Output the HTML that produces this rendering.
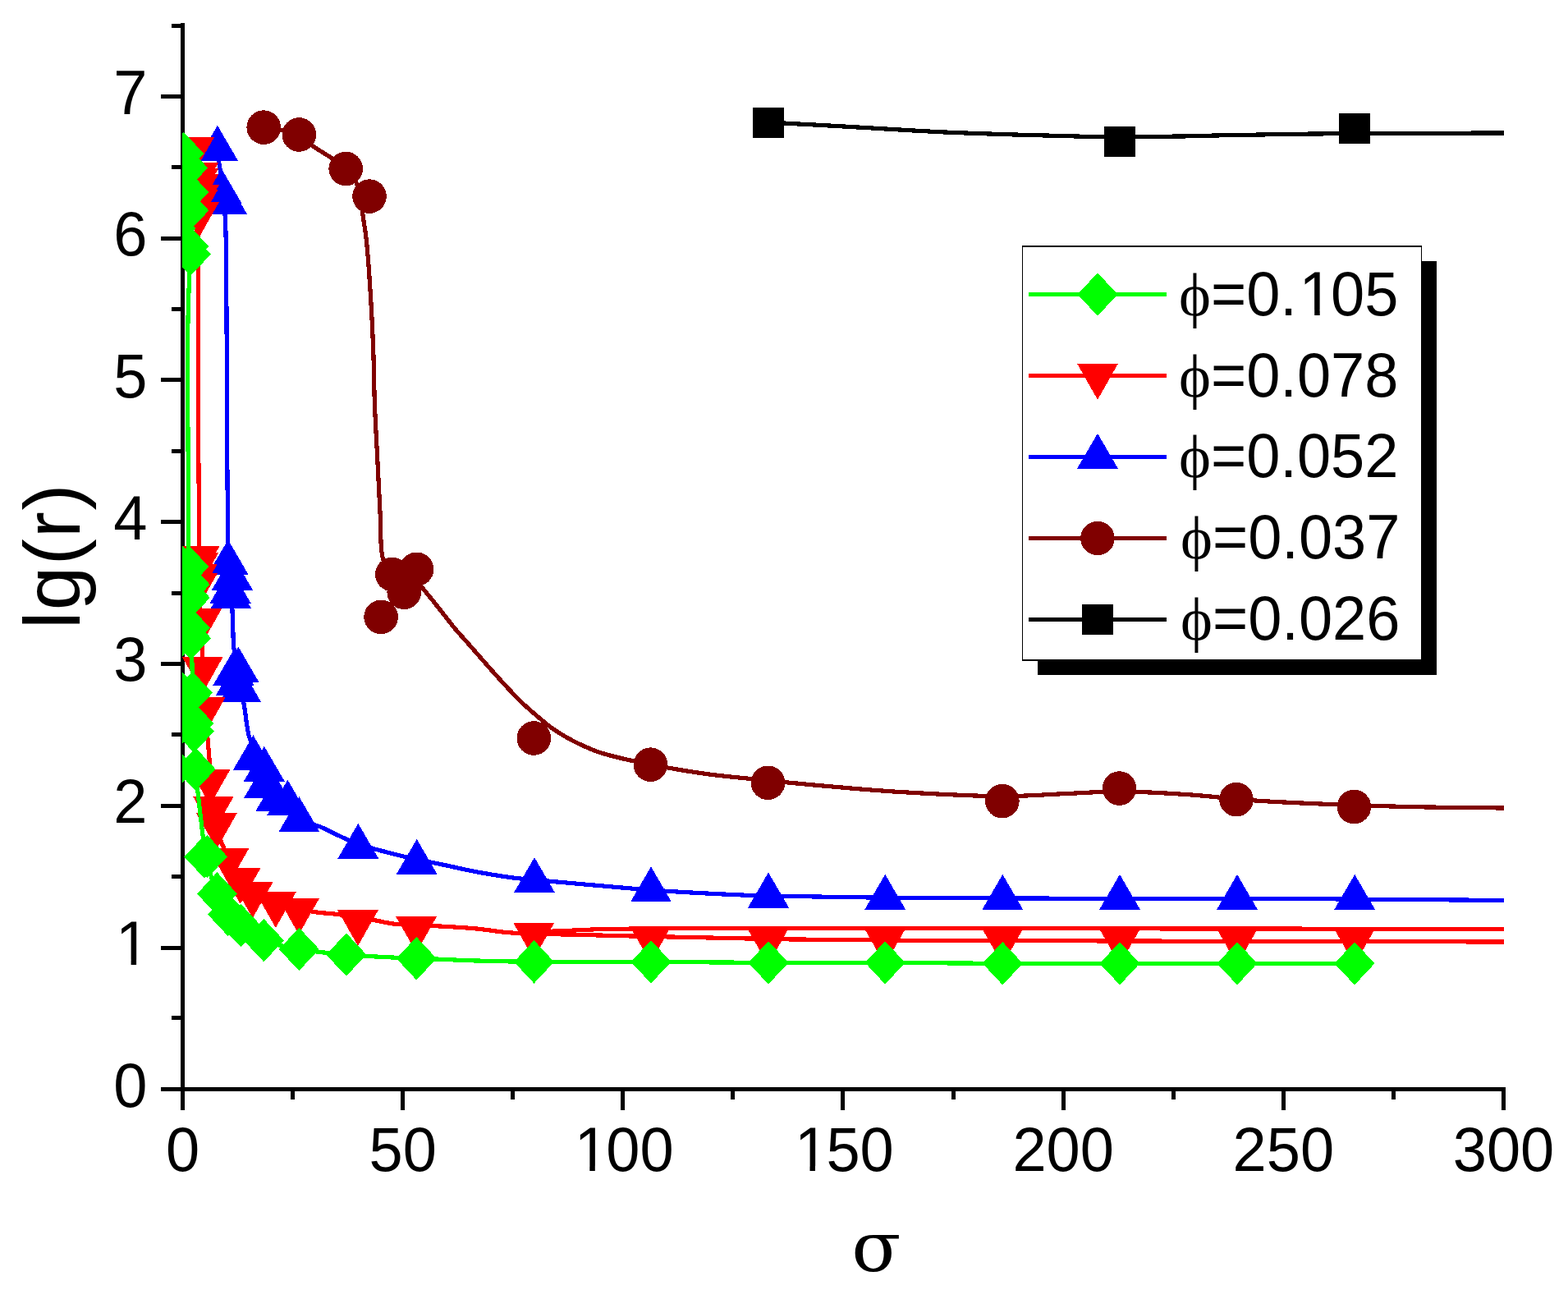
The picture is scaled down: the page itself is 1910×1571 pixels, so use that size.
<!DOCTYPE html>
<html><head><meta charset="utf-8"><title>lg(r) vs sigma</title>
<style>html,body{margin:0;padding:0;background:#fff;}svg{display:block;}</style></head><body>
<svg width="1910" height="1571" viewBox="0 0 1910 1571">
<rect x="0" y="0" width="1910" height="1571" fill="#fff"/>
<g fill="#000" shape-rendering="crispEdges"><rect x="220" y="28" width="5" height="1301"/><rect x="220" y="1324" width="1614" height="5"/><rect x="196" y="1324" width="24" height="5"/><rect x="196" y="1152" width="24" height="5"/><rect x="196" y="979" width="24" height="5"/><rect x="196" y="806" width="24" height="5"/><rect x="196" y="633" width="24" height="5"/><rect x="196" y="460" width="24" height="5"/><rect x="196" y="288" width="24" height="5"/><rect x="196" y="115" width="24" height="5"/><rect x="209" y="1237" width="11" height="5"/><rect x="209" y="1065" width="11" height="5"/><rect x="209" y="892" width="11" height="5"/><rect x="209" y="720" width="11" height="5"/><rect x="209" y="547" width="11" height="5"/><rect x="209" y="374" width="11" height="5"/><rect x="209" y="201" width="11" height="5"/><rect x="209" y="29" width="11" height="5"/><rect x="220" y="1329" width="5" height="23"/><rect x="488" y="1329" width="5" height="23"/><rect x="756" y="1329" width="5" height="23"/><rect x="1024" y="1329" width="5" height="23"/><rect x="1293" y="1329" width="5" height="23"/><rect x="1561" y="1329" width="5" height="23"/><rect x="1829" y="1329" width="5" height="23"/><rect x="354" y="1329" width="5" height="10"/><rect x="622" y="1329" width="5" height="10"/><rect x="890" y="1329" width="5" height="10"/><rect x="1159" y="1329" width="5" height="10"/><rect x="1427" y="1329" width="5" height="10"/><rect x="1695" y="1329" width="5" height="10"/></g>
<g font-family="'Liberation Sans', Arial, sans-serif" fill="#000"><text transform="translate(138.3 1347.6) scale(1 1.02)" x="0" y="0" font-size="74">0</text><text transform="translate(138.3 1174.9) scale(1 1.02)" x="0" y="0" font-size="74"><tspan dx="2.6">1</tspan><tspan dx="-2.6"></tspan></text><text transform="translate(138.3 1002.2) scale(1 1.02)" x="0" y="0" font-size="74">2</text><text transform="translate(138.3 829.4) scale(1 1.02)" x="0" y="0" font-size="74">3</text><text transform="translate(138.3 656.7) scale(1 1.02)" x="0" y="0" font-size="74">4</text><text transform="translate(138.3 484) scale(1 1.02)" x="0" y="0" font-size="74">5</text><text transform="translate(138.3 311.3) scale(1 1.02)" x="0" y="0" font-size="74">6</text><text transform="translate(138.3 138.6) scale(1 1.02)" x="0" y="0" font-size="74">7</text><text transform="translate(201.9 1425.9) scale(1 1.02)" x="0" y="0" font-size="74">0</text><text transform="translate(449.5 1425.9) scale(1 1.02)" x="0" y="0" font-size="74">50</text><text transform="translate(697.1 1425.9) scale(1 1.02)" x="0" y="0" font-size="74"><tspan dx="2.6">1</tspan><tspan dx="-2.6">00</tspan></text><text transform="translate(965.3 1425.9) scale(1 1.02)" x="0" y="0" font-size="74"><tspan dx="2.6">1</tspan><tspan dx="-2.6">50</tspan></text><text transform="translate(1233.4 1425.9) scale(1 1.02)" x="0" y="0" font-size="74">200</text><text transform="translate(1501.6 1425.9) scale(1 1.02)" x="0" y="0" font-size="74">250</text><text transform="translate(1769.8 1425.9) scale(1 1.02)" x="0" y="0" font-size="74">300</text></g>
<text transform="translate(97,677) rotate(-90)" text-anchor="middle" font-family="'Liberation Sans', Arial, sans-serif" font-size="96" letter-spacing="1.5" fill="#000">lg(r)</text>
<text transform="translate(1067.3 1548) scale(1.05 1)" x="0" y="0" text-anchor="middle" font-family="'DejaVu Serif', 'Liberation Serif', serif" font-size="84" fill="#000">σ</text>
<defs><clipPath id="pc"><rect x="222" y="0" width="1610" height="1326"/></clipPath></defs>
<g clip-path="url(#pc)" shape-rendering="crispEdges">
<path d="M936 149.5 C942.3 149.7 946.3 149.6 955 150 C974.6 150.8 1018.2 153.5 1050 155.3 C1082.2 157.1 1114.7 159.3 1147 160.8 C1179.1 162.3 1213.3 163.3 1243 164.2 C1268.7 165 1293.3 165.7 1315 166.1 C1332.9 166.4 1345.9 166.5 1364 166.5 C1386.6 166.5 1417.3 166.3 1440 166 C1458.4 165.7 1473.7 165.1 1490 164.8 C1505.7 164.5 1520.5 164.3 1536 164 C1551.8 163.7 1566.7 163.4 1584 163.2 C1604.3 162.9 1625.7 162.7 1650 162.5 C1679.9 162.3 1718.1 162.3 1750 162.2 C1779.2 162.1 1806 162.1 1834 162" fill="none" stroke="#000000" stroke-width="5.2" stroke-linejoin="round"/>
<g fill="#000000"><rect x="917" y="130.8" width="38" height="37.5"/><rect x="1345" y="153.7" width="38" height="37.5"/><rect x="1630.6" y="137.7" width="38" height="37.5"/></g>
<path d="M321.2 155.1 C335.6 158.1 354.1 159 364.3 164 C371 167.3 373.2 172.2 379 176.5 C386.3 181.9 397.6 188 405.2 193.3 C411.3 197.6 416.5 201 421.2 205.5 C425.7 209.9 430 214.3 433 220 C436.3 226.3 438 234.8 439.5 242 C440.9 248.8 441 254.6 442 262 C443.2 271.2 445.1 280.7 446.4 293 C448.3 310.9 450 337.1 451.4 359.2 C452.8 381.2 453.9 403.3 454.7 425.3 C455.5 447.3 455.6 469.4 456.4 491.4 C457.2 513.4 458.6 535.5 459.7 557.5 C460.8 579.5 461.9 602.5 463 623.6 C464.1 643.1 462.8 667.5 466.3 679.8 C468.2 686.4 469.6 691 474 694 C479.3 697.6 491.5 693.5 498 697 C504.3 700.3 507.3 707.3 512.7 713.7 C519.7 721.9 528.7 733.3 536 742.5 C542.7 750.8 548.5 758.7 555 766.5 C561.5 774.2 568.4 781.4 575 789 C581.7 796.6 588.4 804.5 595 812 C601.4 819.2 607.6 826.1 614 833 C620.3 839.8 626.5 846.6 633 853 C639.5 859.3 646.3 865.3 653 871 C659.3 876.4 665.4 881.8 672 886.5 C678.4 891.1 685.3 895.3 692 899 C698.3 902.6 704.5 905.6 711 908.5 C717.5 911.4 723.1 913.9 731 916.5 C741.8 920 757 923.6 770 926.5 C782.7 929.4 794.5 931.6 808 934 C823.3 936.8 842.8 940 857 942 C867.9 943.6 874 944.3 886 945.6 C905.7 947.8 938.1 950.9 964 953.4 C989.7 955.9 1017 958.4 1041 960.4 C1062 962.1 1076.8 963.4 1100 964.7 C1133.2 966.6 1184.9 969.7 1221 969.7 C1250.1 969.7 1275.1 967.5 1300 966.5 C1322.3 965.6 1340.8 963.9 1363.5 964 C1389.8 964.1 1421 965.9 1448.7 967.8 C1475.1 969.6 1497.2 972.8 1526 974.8 C1562.3 977.3 1611.4 979.2 1649.4 980.6 C1681.9 981.8 1709.5 982.4 1740 983 C1771 983.6 1802.7 983.7 1834 984" fill="none" stroke="#800000" stroke-width="5.2" stroke-linejoin="round"/>
<g fill="#800000"><circle cx="321.2" cy="155.1" r="20.8"/><circle cx="364.3" cy="164" r="20.8"/><circle cx="421.2" cy="205.5" r="20.8"/><circle cx="450" cy="239.1" r="20.8"/><circle cx="477.8" cy="699.5" r="20.8"/><circle cx="507.5" cy="693.3" r="20.8"/><circle cx="492.2" cy="721.3" r="20.8"/><circle cx="464.1" cy="751.4" r="20.8"/><circle cx="650.3" cy="899" r="20.8"/><circle cx="792.4" cy="931.2" r="20.8"/><circle cx="935.5" cy="953.3" r="20.8"/><circle cx="1220.9" cy="975.6" r="20.8"/><circle cx="1363.5" cy="960.1" r="20.8"/><circle cx="1506" cy="973.6" r="20.8"/><circle cx="1649.4" cy="982.5" r="20.8"/></g>
<path d="M264.9 181.4 C265.6 187.6 266.1 193.4 267 200 C268.1 207.7 269.9 215.4 271 225 C272.5 237.8 273.7 254.6 274.5 270 C275.3 286.2 275.3 298.2 275.6 320 C276.2 361.4 276.2 442.1 276.5 500 C276.8 554.1 276.9 621 277.6 657 C278 675.8 278.1 687.6 279 700 C279.7 709.5 281.3 716 282 725 C282.9 735.7 283.1 748.8 283.6 760 C284.1 770.4 283.8 780.5 285 790 C286.1 798.8 288.6 806.9 290 815.3 C291.4 823.6 292.2 832.7 293.5 840 C294.5 845.9 295.7 849.5 296.9 856 C298.8 866.3 300.8 887.3 303.1 895.8 C304.2 900 305.3 901.2 306.7 905 C309 911.3 311.8 922.2 315 930 C318 937.2 321.1 943.3 325 950 C329.3 957.3 334.1 964.5 340 972 C346.9 980.7 355.4 993.2 364.4 998.9 C371.9 1003.6 380.5 1003.2 388.6 1006.3 C397.3 1009.7 406.6 1015 415 1018.8 C422.5 1022.2 429.4 1025.5 436.3 1028 C442.5 1030.3 447.2 1031.4 454.3 1033.4 C464.3 1036.2 480.6 1040.3 490.5 1042.8 C497.3 1044.5 501.7 1045.7 507.7 1047 C514.2 1048.4 519.8 1049.1 528.2 1050.7 C541.6 1053.3 563.3 1058.6 580 1061.7 C595.5 1064.6 612 1067.3 625 1069 C634.8 1070.3 642.7 1070.7 651 1071.5 C658.6 1072.2 663.1 1072.6 673 1073.5 C693.7 1075.4 747.7 1080.2 769 1082 C779.7 1082.9 781.9 1083.2 793 1084 C817.7 1085.7 888.6 1089.4 913 1090.4 C923.7 1090.8 925.1 1090.8 936 1091 C963.2 1091.6 1030.6 1092.7 1078 1093.2 C1125.6 1093.7 1173.3 1093.8 1221 1094 C1268.7 1094.2 1316.3 1094.1 1364 1094.2 C1411.7 1094.3 1459.3 1094.4 1507 1094.5 C1554.7 1094.6 1599.3 1094.7 1650 1095 C1707.5 1095.3 1772.7 1096 1834 1096.5" fill="none" stroke="#0000ff" stroke-width="5.2" stroke-linejoin="round"/>
<g fill="#0000ff"><polygon points="264.9,152.7 289.9,195.7 239.9,195.7"/><polygon points="269.5,204.8 294.5,247.8 244.5,247.8"/><polygon points="276,217.8 301,260.8 251,260.8"/><polygon points="277.8,657.2 302.8,700.2 252.8,700.2"/><polygon points="282.9,675.5 307.9,718.5 257.9,718.5"/><polygon points="280.6,691.6 305.6,734.6 255.6,734.6"/><polygon points="281.3,698.4 306.3,741.4 256.3,741.4"/><polygon points="284.5,791.5 309.5,834.5 259.5,834.5"/><polygon points="288,803.6 313,846.6 263,846.6"/><polygon points="290.4,787.7 315.4,830.7 265.4,830.7"/><polygon points="292.9,811.6 317.9,854.6 267.9,854.6"/><polygon points="308.5,895.4 333.5,938.4 283.5,938.4"/><polygon points="321.8,908.7 346.8,951.7 296.8,951.7"/><polygon points="321.9,929.2 346.9,972.2 296.9,972.2"/><polygon points="336.1,945.3 361.1,988.3 311.1,988.3"/><polygon points="350.4,949.7 375.4,992.7 325.4,992.7"/><polygon points="364.4,970.2 389.4,1013.2 339.4,1013.2"/><polygon points="436.3,1002.8 461.3,1045.8 411.3,1045.8"/><polygon points="507.7,1021.9 532.7,1064.9 482.7,1064.9"/><polygon points="651,1044.1 676,1087.1 626,1087.1"/><polygon points="793,1055.4 818,1098.4 768,1098.4"/><polygon points="936,1062.5 961,1105.5 911,1105.5"/><polygon points="1078.2,1064.8 1103.2,1107.8 1053.2,1107.8"/><polygon points="1221.3,1064.9 1246.3,1107.9 1196.3,1107.9"/><polygon points="1364,1064.9 1389,1107.9 1339,1107.9"/><polygon points="1507,1064.9 1532,1107.9 1482,1107.9"/><polygon points="1650.2,1064.9 1675.2,1107.9 1625.2,1107.9"/></g>
<path d="M236 181.4 C237.6 191.8 239.8 201 240.8 212.5 C242 226.8 241.6 246.8 241.7 260.9 C241.8 271.8 241.6 279 241.5 290 C241.4 304.4 241.2 318.6 241.2 340 C241.1 378.2 241.3 448.4 241.5 500 C241.7 548.2 242.3 607.6 242.5 640 C242.6 657.2 243.2 666.9 242.8 679.4 C242.4 690.8 240.3 700.3 240.5 712 C240.7 725.6 244.1 740.3 245.1 756.1 C246.3 774.2 246 795.9 246.8 814.6 C247.5 831.8 248.5 848.8 249.6 864 C250.6 877 252 888.5 253 900 C253.9 910.5 254.7 920 255.5 930 C256.2 940 256.6 950 257.5 960 C258.4 970 259.5 980.5 261 990 C262.4 998.7 263.4 1006.4 266 1015 C269 1024.7 273.8 1035.8 278.5 1045 C282.8 1053.4 287.6 1061.1 292.7 1068 C297.4 1074.3 301.3 1080.2 307.7 1085 C315.2 1090.6 326.3 1094.5 335.8 1098 C345.1 1101.4 355.9 1103.8 364 1106 C370.2 1107.7 374 1109.1 380.3 1110.2 C388.9 1111.8 401.6 1112.3 411.3 1113.5 C420 1114.6 428.4 1115.8 436 1117 C442.5 1118 447.4 1119 454 1120.2 C462.1 1121.7 470.4 1124 480.8 1125.2 C494.9 1126.9 514.3 1126.7 531 1127.7 C547.8 1128.7 566.2 1129.6 581.3 1131.1 C593.6 1132.3 603.5 1134.2 614.8 1135.3 C626.4 1136.4 639.3 1137.1 650 1137.5 C659 1137.8 666.7 1137.7 675 1137.8 C683.3 1137.9 691.3 1138 700 1138.2 C709.5 1138.4 719.3 1138.7 730 1139 C742.4 1139.3 754.4 1139.6 770 1140 C792.1 1140.5 821.8 1141.1 850 1141.7 C881.5 1142.4 914.6 1143.3 950 1143.8 C990 1144.4 1034.2 1144.7 1078 1145 C1124.3 1145.3 1165.4 1145.4 1221 1145.6 C1298.6 1145.9 1402.8 1146.1 1500 1146.3 C1606.3 1146.5 1722.7 1146.8 1834 1147" fill="none" stroke="#ff0000" stroke-width="5.2" stroke-linejoin="round"/>
<path d="M650 1136 C658.3 1135.3 666.7 1134.5 675 1134 C683.3 1133.5 691.3 1133.4 700 1133 C709.5 1132.6 717.9 1132 730 1131.7 C748.5 1131.2 774.6 1131 800 1130.8 C830.4 1130.6 857.2 1130.6 900 1130.5 C976.7 1130.4 1117.7 1130.6 1221 1130.7 C1317.3 1130.8 1402.8 1130.9 1500 1131 C1606.3 1131.1 1722.7 1131.3 1834 1131.4" fill="none" stroke="#ff0000" stroke-width="5.2" stroke-linejoin="round"/>
<g fill="#ff0000"><polygon points="211,167 261,167 236,211"/><polygon points="216.2,197.9 266.2,197.9 241.2,241.9"/><polygon points="216.2,205 266.2,205 241.2,249"/><polygon points="216.2,212 266.2,212 241.2,256"/><polygon points="217,224.9 267,224.9 242,268.9"/><polygon points="215.5,231 265.5,231 240.5,275"/><polygon points="217,246 267,246 242,290"/><polygon points="217.8,664.7 267.8,664.7 242.8,708.7"/><polygon points="216.1,673.3 266.1,673.3 241.1,717.3"/><polygon points="215,686.5 265,686.5 240,730.5"/><polygon points="215,697.9 265,697.9 240,741.9"/><polygon points="220.1,741.4 270.1,741.4 245.1,785.4"/><polygon points="221.8,799.9 271.8,799.9 246.8,843.9"/><polygon points="224.6,849.3 274.6,849.3 249.6,893.3"/><polygon points="230.8,936.6 280.8,936.6 255.8,980.6"/><polygon points="234.9,969.6 284.9,969.6 259.9,1013.6"/><polygon points="238.9,990 288.9,990 263.9,1034"/><polygon points="253.5,1032.8 303.5,1032.8 278.5,1076.8"/><polygon points="267.7,1056.8 317.7,1056.8 292.7,1100.8"/><polygon points="282.7,1074 332.7,1074 307.7,1118"/><polygon points="310.8,1086 360.8,1086 335.8,1130"/><polygon points="339,1094 389,1094 364,1138"/><polygon points="411,1108 461,1108 436,1152"/><polygon points="482.1,1116.1 532.1,1116.1 507.1,1160.1"/><polygon points="625.2,1123.9 675.2,1123.9 650.2,1167.9"/><polygon points="767.4,1128.4 817.4,1128.4 792.4,1172.4"/><polygon points="910.5,1131 960.5,1131 935.5,1175"/><polygon points="1053,1131 1103,1131 1078,1175"/><polygon points="1196.3,1131 1246.3,1131 1221.3,1175"/><polygon points="1339,1131 1389,1131 1364,1175"/><polygon points="1482,1131 1532,1131 1507,1175"/><polygon points="1625,1131 1675,1131 1650,1175"/></g>
<path d="M223.7 186.9 C225.7 202.6 228.4 216.5 229.8 234.1 C231.6 256.3 232.4 290.2 232.2 309.7 C232 322.1 231 328.2 230.5 340 C229.8 356.6 229.1 377.5 228.8 400 C228.4 429.1 228.7 466.7 228.8 500 C228.9 533.3 229.3 567.5 229.5 600 C229.7 630.8 229.4 666.5 229.9 690.1 C230.2 705.4 230.9 714.5 231.3 727.9 C231.8 743.2 232 762.3 232.5 777.1 C232.9 789.2 233.7 798.9 234 810 C234.3 821.2 234.1 831.7 234.4 843.9 C234.8 858.2 235.7 875.1 236.3 890.6 C236.9 906 237.3 923.3 238.2 936.8 C238.9 947.4 239.9 955.1 241 965 C242.2 976 243.4 987.7 245 1000 C246.7 1013.7 247.9 1028.7 251 1043.2 C254.3 1058.2 259.4 1075.8 264.5 1088.5 C268.5 1098.3 272.3 1107 277.6 1113.7 C282.1 1119.4 287.1 1122.4 293.2 1127 C301 1132.8 310.5 1140.5 321.3 1145.2 C333.7 1150.6 348.8 1153.2 364.3 1156 C382 1159.2 400.7 1160.8 421.8 1162.6 C447.5 1164.8 487.7 1166.5 507.3 1167.3 C517.6 1167.7 521.5 1167.7 530.8 1168 C544.2 1168.5 562.1 1169.5 580 1170 C601.4 1170.6 622.9 1171.1 650.5 1171.4 C689.7 1171.8 745.5 1171.2 793 1171.4 C840.6 1171.6 888.4 1172.2 936 1172.4 C983.5 1172.6 1030.7 1172.3 1078.2 1172.4 C1125.8 1172.5 1173.6 1173.2 1221.3 1173.3 C1268.9 1173.4 1316.4 1173.3 1364 1173.3 C1411.6 1173.3 1459.3 1173.3 1507 1173.3 C1554.7 1173.3 1602.3 1173.3 1650 1173.3" fill="none" stroke="#00ff00" stroke-width="5.2" stroke-linejoin="round"/>
<g fill="#00ff00"><polygon points="214,251.8 238.5,278 214,304.2 189.5,278"/><polygon points="222.5,664.8 247,691 222.5,717.2 198,691"/><polygon points="214,719.8 238.5,746 214,772.2 189.5,746"/><polygon points="214,755.8 238.5,782 214,808.2 189.5,782"/><polygon points="222.5,818.8 247,845 222.5,871.2 198,845"/><polygon points="214,843.8 238.5,870 214,896.2 189.5,870"/><polygon points="214,861.8 238.5,888 214,914.2 189.5,888"/><polygon points="214,909.8 238.5,936 214,962.2 189.5,936"/><polygon points="223.7,160.7 248.2,186.9 223.7,213.1 199.2,186.9"/><polygon points="228.6,178.2 253.1,204.4 228.6,230.6 204.1,204.4"/><polygon points="229.8,207.9 254.3,234.1 229.8,260.3 205.3,234.1"/><polygon points="229.8,230.2 254.3,256.4 229.8,282.6 205.3,256.4"/><polygon points="229.8,273.8 254.3,300 229.8,326.2 205.3,300"/><polygon points="232.2,283.5 256.7,309.7 232.2,335.9 207.7,309.7"/><polygon points="229.9,663.9 254.4,690.1 229.9,716.3 205.4,690.1"/><polygon points="231.3,685.7 255.8,711.9 231.3,738.1 206.8,711.9"/><polygon points="231.3,701.7 255.8,727.9 231.3,754.1 206.8,727.9"/><polygon points="231.3,738.3 255.8,764.5 231.3,790.7 206.8,764.5"/><polygon points="232.5,750.9 257,777.1 232.5,803.3 208,777.1"/><polygon points="234.4,817.7 258.9,843.9 234.4,870.1 209.9,843.9"/><polygon points="235.7,854.6 260.2,880.8 235.7,907 211.2,880.8"/><polygon points="236.3,864.4 260.8,890.6 236.3,916.8 211.8,890.6"/><polygon points="238.2,910.6 262.7,936.8 238.2,963 213.7,936.8"/><polygon points="249,1017.3 273.5,1043.5 249,1069.7 224.5,1043.5"/><polygon points="252.5,1017 277,1043.2 252.5,1069.4 228,1043.2"/><polygon points="264.5,1062.3 289,1088.5 264.5,1114.7 240,1088.5"/><polygon points="277.6,1087.5 302.1,1113.7 277.6,1139.9 253.1,1113.7"/><polygon points="293.2,1100.8 317.7,1127 293.2,1153.2 268.7,1127"/><polygon points="321.3,1119 345.8,1145.2 321.3,1171.4 296.8,1145.2"/><polygon points="364.3,1129.8 388.8,1156 364.3,1182.2 339.8,1156"/><polygon points="421.8,1136.4 446.3,1162.6 421.8,1188.8 397.3,1162.6"/><polygon points="507.3,1141.1 531.8,1167.3 507.3,1193.5 482.8,1167.3"/><polygon points="650.5,1145.2 675,1171.4 650.5,1197.6 626,1171.4"/><polygon points="793,1145.2 817.5,1171.4 793,1197.6 768.5,1171.4"/><polygon points="936,1146.2 960.5,1172.4 936,1198.6 911.5,1172.4"/><polygon points="1078.2,1146.2 1102.7,1172.4 1078.2,1198.6 1053.7,1172.4"/><polygon points="1221.3,1147.1 1245.8,1173.3 1221.3,1199.5 1196.8,1173.3"/><polygon points="1364,1147.1 1388.5,1173.3 1364,1199.5 1339.5,1173.3"/><polygon points="1507,1147.1 1531.5,1173.3 1507,1199.5 1482.5,1173.3"/><polygon points="1650,1147.1 1674.5,1173.3 1650,1199.5 1625.5,1173.3"/></g>
</g>
<g shape-rendering="crispEdges"><rect x="1264" y="318" width="486" height="504" fill="#000"/><rect x="1245" y="299" width="487" height="506" fill="#000"/><rect x="1246" y="301" width="485" height="502" fill="#fff"/></g>
<rect x="1253" y="356" width="168" height="5" fill="#00ff00"/><g shape-rendering="crispEdges"><g fill="#00ff00"><polygon points="1337,332.3 1361.5,358.5 1337,384.7 1312.5,358.5"/></g></g><text x="1436" y="383.7" font-family="'Liberation Serif', 'Times New Roman', serif" font-size="74" fill="#000">ϕ</text><g font-family="'Liberation Sans', Arial, sans-serif" fill="#000"><text transform="translate(1475 383.7) scale(1 1.03)" x="0" y="0" font-size="74">=0.<tspan dx="2.6">1</tspan><tspan dx="-2.6">05</tspan></text></g>
<rect x="1253" y="455" width="168" height="5" fill="#ff0000"/><g shape-rendering="crispEdges"><g fill="#ff0000"><polygon points="1312,442.8 1362,442.8 1337,486.8"/></g></g><text x="1436" y="482.5" font-family="'Liberation Serif', 'Times New Roman', serif" font-size="74" fill="#000">ϕ</text><g font-family="'Liberation Sans', Arial, sans-serif" fill="#000"><text transform="translate(1475 482.5) scale(1 1.03)" x="0" y="0" font-size="74">=0.078</text></g>
<rect x="1253" y="554" width="168" height="5" fill="#0000ff"/><g shape-rendering="crispEdges"><g fill="#0000ff"><polygon points="1337,527.8 1362,570.8 1312,570.8"/></g></g><text x="1436" y="581.3" font-family="'Liberation Serif', 'Times New Roman', serif" font-size="74" fill="#000">ϕ</text><g font-family="'Liberation Sans', Arial, sans-serif" fill="#000"><text transform="translate(1475 581.3) scale(1 1.03)" x="0" y="0" font-size="74">=0.052</text></g>
<rect x="1253" y="653" width="168" height="5" fill="#800000"/><g shape-rendering="crispEdges"><g fill="#800000"><circle cx="1337" cy="655.5" r="20.8"/></g></g><text x="1438" y="680.1" font-family="'Liberation Serif', 'Times New Roman', serif" font-size="74" fill="#000">ϕ</text><g font-family="'Liberation Sans', Arial, sans-serif" fill="#000"><text transform="translate(1477 680.1) scale(1 1.03)" x="0" y="0" font-size="74">=0.037</text></g>
<rect x="1253" y="752" width="168" height="5" fill="#000000"/><g shape-rendering="crispEdges"><g fill="#000000"><rect x="1318" y="735.8" width="38" height="37.5"/></g></g><text x="1438" y="778.9" font-family="'Liberation Serif', 'Times New Roman', serif" font-size="74" fill="#000">ϕ</text><g font-family="'Liberation Sans', Arial, sans-serif" fill="#000"><text transform="translate(1477 778.9) scale(1 1.03)" x="0" y="0" font-size="74">=0.026</text></g>
<g fill="#fff"><rect x="145.3" y="1168.8" width="14.3" height="6.8"/><rect x="166.1" y="1168.8" width="13.7" height="6.8"/><rect x="704" y="1419.9" width="14.3" height="6.8"/><rect x="724.8" y="1419.9" width="13.7" height="6.8"/><rect x="972.2" y="1419.9" width="14.3" height="6.8"/><rect x="993" y="1419.9" width="13.7" height="6.8"/><rect x="1586.9" y="377.6" width="14.3" height="6.9"/><rect x="1607.7" y="377.6" width="13.7" height="6.9"/></g>
</svg>
</body></html>
